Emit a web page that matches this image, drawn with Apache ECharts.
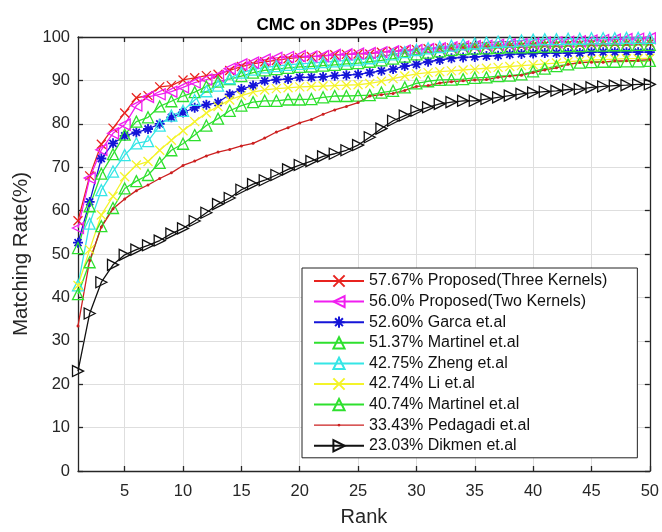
<!DOCTYPE html>
<html>
<head>
<meta charset="utf-8">
<script src="https://cdn.jsdelivr.net/npm/echarts@6/dist/echarts.min.js"></script>
<style>
html,body{margin:0;padding:0;background:#fff;}
#chart{width:662px;height:532px;}
</style>
</head>
<body>
<div id="chart"></div>
<script>
const ranks = [1,2,3,4,5,6,7,8,9,10,11,12,13,14,15,16,17,18,19,20,21,22,23,24,25,26,27,28,29,30,31,32,33,34,35,36,37,38,39,40,41,42,43,44,45,46,47,48,49,50];
const xTicks = [5,10,15,20,25,30,35,40,45,50];

const seriesNames = [
  '57.67% Proposed(Three Kernels)',
  '56.0% Proposed(Two Kernels)',
  '52.60% Garca et.al',
  '51.37% Martinel et.al',
  '42.75% Zheng et.al',
  '42.74% Li et.al',
  '40.74% Martinel et.al ',
  '33.43% Pedagadi et.al',
  '23.03% Dikmen et.al'
];

const threeKernels = [57.67,68,75.3,79,82.5,86,86.5,88.5,88.8,90.1,90.6,91.1,91.4,92.3,93.2,93.8,94.3,94.6,95,95.3,95.5,95.7,95.9,96,96.1,96.1,96.5,96.7,96.9,97.1,97.3,97.4,97.5,97.6,97.7,97.8,97.9,98,98,98.1,98.2,98.2,98.3,98.3,98.4,98.4,98.5,98.5,98.6,98.6];
const twoKernels = [56,67.5,74,77.8,79.8,84.2,86.2,86.8,87.4,88.4,89.5,90.2,91,92.7,93.7,94.1,94.8,95.2,95.4,95.6,95.5,95.6,95.9,96,96.2,96.3,96.5,96.7,96.9,97,97.2,97.4,97.6,97.8,97.9,98,98.2,98.3,98.4,98.5,98.7,98.8,98.9,99,99.2,99.3,99.4,99.5,99.6,99.7];
const garca = [52.6,62,72,75.5,77.2,78,78.8,80,81.5,82.6,83.7,84.4,84.9,86.8,88,88.8,89.9,90.2,90.3,90.7,90.7,90.8,91.1,91.2,91.4,91.8,92.2,92.6,93.3,93.7,94.3,94.7,95.1,95.3,95.4,95.6,95.7,96,96.1,96.2,96.3,96.3,96.3,96.3,96.5,96.5,96.5,96.5,96.5,96.5];
const martinel51 = [51.37,61,68.5,73,77.5,80.5,81.5,84,85.2,86.4,87.3,88.6,89.7,90.3,91,91.8,92.3,92.6,92.9,93.1,93.2,93.4,93.6,93.8,94,94.3,94.6,95,95.5,96,96.4,96.7,97,97.2,97.3,97.4,97.5,97.6,97.6,97.7,97.8,97.8,97.9,97.9,98,98,98.1,98.1,98.2,98.2];
const zheng = [42.75,57,64.7,69,72.8,75.5,76,79.6,81.9,83,85.5,87.5,88.8,90.5,91.8,92.5,93,93.3,93.6,93.8,94,94.2,94.4,94.6,94.8,95.1,95.5,96,96.5,97,97.4,97.7,98,98.3,98.5,98.7,98.9,99,99.2,99.4,99.5,99.5,99.6,99.6,99.7,99.7,99.7,99.8,99.8,99.8];
const li = [42.74,51,59,63.3,67.8,70.5,71.3,73.9,76.2,78.4,80.5,82.5,84,85.5,86.5,87.3,87.8,88.1,88.3,88.5,88.6,88.7,88.8,88.9,89,89.3,89.8,90.4,91,91.5,91.8,92,92.2,92.4,92.6,92.8,93,93.2,93.4,93.6,93.8,94,94.3,94.5,94.7,94.8,94.9,95,95,95.1];
const martinel40 = [40.74,48.1,56.4,60.6,65.1,66.8,68.2,71,73.9,75.4,77.4,79.6,81.2,83,84.2,85,85.3,85.3,85.6,85.6,85.7,86.1,86.4,86.4,86.5,86.6,87.2,87.6,88.4,89.3,89.8,90.1,90.2,90.3,90.6,90.7,91,91.1,91.4,92.1,92.7,93.3,93.7,94.1,94.2,94.3,94.3,94.4,94.4,94.5];
const pedagadi = [33.43,48.5,56.2,60.4,62.7,64.6,65.9,67.4,68.7,70.4,71.4,72.6,73.5,74.1,74.9,75.5,76.7,78.1,79.1,80.2,81,82.2,83.2,84,84.9,86.4,86.7,87,87.7,88.6,88.8,89.4,89.7,89.9,90.1,90.2,90.7,91,91.2,91.8,92.4,92.9,93.7,94.1,94.2,94.2,94.5,94.5,94.6,94.8];
const dikmen = [23.03,36.3,43.5,47.5,49.8,51,52,53.1,54.7,55.9,57.6,59.5,61.5,62.9,64.8,66.1,67,68.2,69.5,70.5,71.4,72.5,73.1,73.9,75.1,76.9,78.9,80.7,81.9,83,83.8,84.6,85,85.3,85.3,85.7,86.1,86.5,86.9,87.2,87.4,87.6,87.9,88,88.4,88.6,88.8,88.9,89.1,89.1];

const allData = [threeKernels, twoKernels, garca, martinel51, zheng, li, martinel40, pedagadi, dikmen];

const colors = ['#e8231f','#f01ef0','#1515d8','#2ee02e','#35e6e6','#f4f42a','#2ee02e','#cc2020','#111111'];
const X = 'path://M0,0L10,10M10,0L0,10';
const STAR = 'path://M5,0L5,10M0,5L10,5M1.5,1.5L8.5,8.5M8.5,1.5L1.5,8.5';
const DOT_LEGEND = 'path://M0,9.4L50,9.4L50,10.6L0,10.6Z M25,8.6L26.2,9.1L26.7,10L26.2,10.9L25,11.4L23.8,10.9L23.3,10L23.8,9.1Z';
const symbols = [X,'triangle',STAR,'triangle','triangle',X,'triangle','circle','triangle'];
const rotates = [0,90,0,0,0,0,0,0,-90];
const sizes = [9,11,10,11,11,9,11,3,11];

const FONT = 'Liberation Sans, Arial, Helvetica, sans-serif';

const series = allData.map((d, i) => {
  const isDot = i === 7;
  return {
    name: seriesNames[i],
    type: 'line',
    xAxisIndex: 0,
    yAxisIndex: 0,
    data: ranks.map((r, k) => [r, d[k]]),
    symbol: symbols[i],
    symbolSize: sizes[i],
    symbolRotate: rotates[i],
    showSymbol: true,
    lineStyle: {color: colors[i], width: 1.3},
    itemStyle: isDot ? {color: colors[i], borderColor: colors[i], borderWidth: 0}
                     : {color: 'rgba(255,255,255,0)', borderColor: colors[i], borderWidth: i === 2 ? 1.8 : 1.3},
    emphasis: {disabled: true},
    animation: false
  };
});

const legendData = seriesNames.map((n, i) => i === 7 ? {name: n, icon: DOT_LEGEND} : {name: n});

const chart = echarts.init(document.getElementById('chart'), null, {renderer: 'canvas'});
const axisLineStyle = {color: '#262626', width: 1.3};
chart.setOption({
  backgroundColor: '#ffffff',
  animation: false,
  textStyle: {fontFamily: FONT},
  title: {
    text: 'CMC on 3DPes (P=95)',
    left: 340, top: 12, textAlign: 'center',
    textStyle: {fontFamily: FONT, fontSize: 17, fontWeight: 'bold', color: '#000'}
  },
  grid: {left: 78, right: 9, top: 37, bottom: 56, containLabel: false},
  legend: {
    orient: 'vertical',
    left: 302, top: 268,
    padding: [5, 30, 4, 11],
    itemWidth: 50, itemHeight: 14, itemGap: 4.6,
    borderColor: '#222', borderWidth: 1,
    backgroundColor: '#fff',
    textStyle: {fontFamily: FONT, fontSize: 16, color: '#111'},
    data: legendData
  },
  xAxis: [{
    type: 'value', min: 1, max: 50, position: 'bottom',
    name: 'Rank', nameLocation: 'middle', nameGap: 36,
    nameTextStyle: {fontFamily: FONT, fontSize: 20, color: '#262626'},
    axisLine: {onZero: false, lineStyle: axisLineStyle},
    axisTick: {inside: true, length: 5, customValues: xTicks, lineStyle: axisLineStyle},
    axisLabel: {customValues: xTicks, fontSize: 16.5, color: '#262626', margin: 12, fontFamily: FONT},
    splitLine: {show: true, lineStyle: {color: '#dedede', width: 1}}
  }, {
    type: 'value', min: 1, max: 50, position: 'top',
    axisLine: {onZero: false, lineStyle: axisLineStyle},
    axisTick: {inside: true, length: 5, customValues: xTicks, lineStyle: axisLineStyle},
    axisLabel: {show: false},
    splitLine: {show: false}
  }],
  yAxis: [{
    type: 'value', min: 0, max: 100, interval: 10, position: 'left',
    name: 'Matching Rate(%)', nameLocation: 'middle', nameGap: 45, nameRotate: 90,
    nameTextStyle: {fontFamily: FONT, fontSize: 20.5, color: '#262626'},
    axisLine: {show: true, onZero: false, lineStyle: axisLineStyle},
    axisTick: {show: true, inside: true, length: 5, lineStyle: axisLineStyle},
    axisLabel: {fontSize: 16.5, color: '#262626', margin: 8, fontFamily: FONT},
    splitLine: {show: true, lineStyle: {color: '#dedede', width: 1}}
  }, {
    type: 'value', min: 0, max: 100, interval: 10, position: 'right',
    axisLine: {show: true, onZero: false, lineStyle: axisLineStyle},
    axisTick: {show: true, inside: true, length: 5, lineStyle: axisLineStyle},
    axisLabel: {show: false},
    splitLine: {show: false}
  }],
  series: series
});
</script>
</body>
</html>
